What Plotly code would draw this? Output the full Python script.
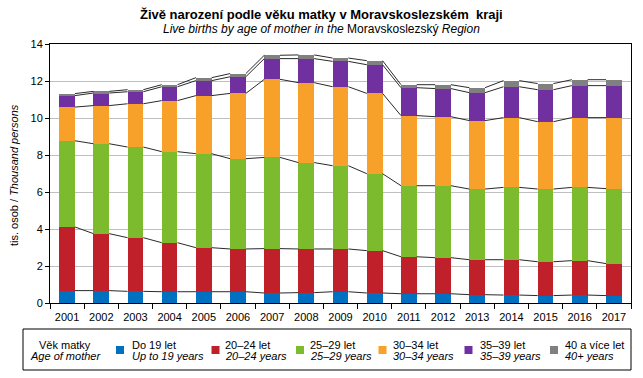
import numpy as np
import plotly.graph_objects as go

years = [str(y) for y in range(2001, 2018)]

do19 = [0.67, 0.67, 0.63, 0.61, 0.61, 0.61, 0.54, 0.56, 0.61, 0.54, 0.50, 0.50, 0.45, 0.43, 0.40, 0.43, 0.40]
age20_24 = [3.44, 3.08, 2.90, 2.65, 2.38, 2.31, 2.40, 2.36, 2.31, 2.29, 2.00, 1.95, 1.89, 1.91, 1.83, 1.86, 1.73]
age25_29 = [4.66, 4.86, 4.90, 4.92, 5.08, 4.88, 4.93, 4.67, 4.50, 4.16, 3.84, 3.89, 3.82, 3.91, 3.93, 3.96, 4.05]
age30_34 = [1.82, 2.06, 2.34, 2.76, 3.14, 3.53, 4.22, 4.32, 4.27, 4.34, 3.79, 3.73, 3.70, 3.77, 3.64, 3.77, 3.84]
age35_39 = [0.62, 0.68, 0.65, 0.75, 0.81, 0.90, 1.12, 1.30, 1.37, 1.55, 1.51, 1.52, 1.51, 1.67, 1.73, 1.73, 1.73]
age40p = [0.11, 0.09, 0.11, 0.11, 0.16, 0.17, 0.18, 0.20, 0.18, 0.22, 0.16, 0.21, 0.27, 0.33, 0.33, 0.32, 0.32]

series_names = ["Do 19 let", "20–24 let", "25–29 let", "30–34 let", "35–39 let", "40 a více let"]
series_names_en = ["Up to 19 years", "20–24 years", "25–29 years", "30–34 years", "35–39 years", "40+ years"]
series_vals = [do19, age20_24, age25_29, age30_34, age35_39, age40p]
colors = ["#0070C0", "#C0202A", "#7DBB2E", "#F8A12A", "#7030A0", "#808080"]

yticks = [0, 2, 4, 6, 8, 10, 12, 14]

FONT = "Liberation Sans, Arial, sans-serif"
W, H = 643, 378
L, R, T, B = 50, 12, 44, 75
pw, ph = W - L - R, H - T - B

def px(x):
    return (x - L) / pw

def py(y):
    return (H - B - y) / ph

idx = np.arange(len(years))
bw = 0.46

fig = go.Figure()
for name, vals, col in zip(series_names, series_vals, colors):
    fig.add_trace(go.Bar(x=idx, y=vals, width=bw, name=name,
                         marker=dict(color=col, line=dict(width=0)),
                         showlegend=False))

cum = np.cumsum(np.array(series_vals), axis=0)
for level in cum:
    xs, ys = [], []
    for i in range(len(years) - 1):
        xs += [i + bw / 2, i + 1 - bw / 2, None]
        ys += [level[i], level[i + 1], None]
    fig.add_trace(go.Scatter(x=xs, y=ys, mode="lines",
                             line=dict(color="#2a2a2a", width=1),
                             showlegend=False, hoverinfo="skip"))

fig.update_layout(
    width=W, height=H,
    margin=dict(l=L, r=R, t=T, b=B, pad=0),
    paper_bgcolor="white", plot_bgcolor="white",
    barmode="stack", bargap=0,
    font=dict(family=FONT, size=11, color="black"),
    xaxis=dict(range=[-0.5, len(years) - 0.5], tickmode="array", tickvals=list(idx),
               ticktext=years, ticks="", showgrid=False, zeroline=False,
               showline=True, linecolor="black", linewidth=1, mirror=True,
               tickfont=dict(size=11), ticklabelstandoff=4,
               minor=dict(ticks="outside", ticklen=5, tickcolor="black", tickwidth=1,
                          tickmode="array", tickvals=[i - 0.5 for i in range(len(years) + 1)],
                          showgrid=False)),
    yaxis=dict(range=[0, 14], tickmode="array", tickvals=yticks, ticks="outside",
               ticklen=4, tickcolor="black", showgrid=True, gridcolor="#BFBFBF",
               gridwidth=1, zeroline=False, showline=True, linecolor="black",
               linewidth=1, mirror=True, tickfont=dict(size=11)),
)

ann = []
ann.append(dict(text="<b>Živě narození podle věku matky v Moravskoslezském  kraji</b>",
                x=px(321), y=py(14), xref="paper", yref="paper", xanchor="center",
                yanchor="middle", showarrow=False, font=dict(size=13)))
ann.append(dict(text="<i>Live births by age of mother in the</i> Moravskoslezský <i>Region</i>",
                x=px(321), y=py(28.5), xref="paper", yref="paper", xanchor="center",
                yanchor="middle", showarrow=False, font=dict(size=12)))
ann.append(dict(text="tis. osob / <i>Thousand persons</i>", textangle=-90,
                x=px(14), y=py(175), xref="paper", yref="paper", xanchor="center",
                yanchor="middle", showarrow=False, font=dict(size=11)))

# legend (manual)
shapes = [dict(type="rect", xref="paper", yref="paper", x0=px(23), x1=px(631),
               y0=py(370), y1=py(329), line=dict(color="black", width=1),
               fillcolor="rgba(0,0,0,0)")]
ann.append(dict(text="Věk matky", x=px(65), y=py(345), xref="paper", yref="paper",
                xanchor="center", yanchor="middle", showarrow=False))
ann.append(dict(text="<i>Age of mother</i>", x=px(65), y=py(356), xref="paper", yref="paper",
                xanchor="center", yanchor="middle", showarrow=False))
sq_x = [116, 211.5, 296, 378.5, 464.5, 550]
tx_x = [130, 223, 308, 391, 478, 563]
for sx, tx, col, n1, n2 in zip(sq_x, tx_x, colors, series_names, series_names_en):
    shapes.append(dict(type="rect", xref="paper", yref="paper", x0=px(sx), x1=px(sx + 8),
                       y0=py(354), y1=py(346), line=dict(width=0), fillcolor=col))
    ann.append(dict(text=n1, x=px(tx), y=py(345), xref="paper", yref="paper",
                    xanchor="left", yanchor="middle", showarrow=False))
    ann.append(dict(text="<i>" + n2 + "</i>", x=px(tx), y=py(356), xref="paper", yref="paper",
                    xanchor="left", yanchor="middle", showarrow=False))

fig.update_layout(annotations=ann, shapes=shapes)
fig.write_html("out.html", config={"displayModeBar": False},
               post_script="document.body.style.margin='0';document.body.style.overflow='hidden';")
